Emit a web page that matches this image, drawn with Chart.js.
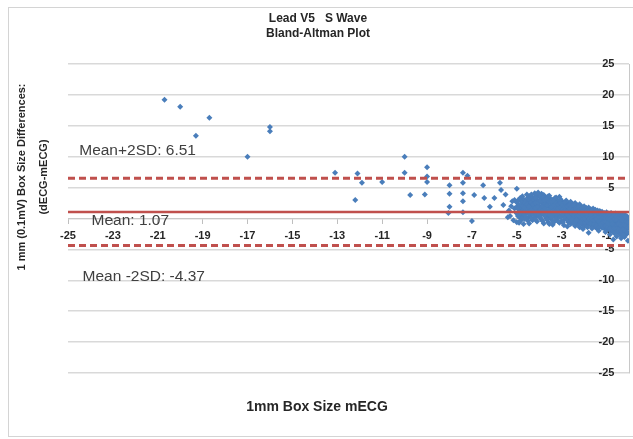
<!DOCTYPE html>
<html>
<head>
<meta charset="utf-8">
<script src="https://cdn.jsdelivr.net/npm/chart.js@4.4.1/dist/chart.umd.min.js"></script>
<style>
  html, body { margin: 0; padding: 0; background: #fff; }
  #wrap { width: 633px; height: 439px; }
</style>
</head>
<body>
<div id="wrap"><canvas id="baChart" width="633" height="439"></canvas></div>
<script>
// tick labels
const xTicks = [-25, -23, -21, -19, -17, -15, -13, -11, -9, -7, -5, -3, -1];
const yTicks = [-25, -20, -15, -10, -5, 0, 5, 10, 15, 20, 25];

// Bland-Altman statistics
const meanDiff = 1.07;
const upperLimit = 6.51;
const lowerLimit = -4.37;

// scattered points (mECG, difference)
const sparsePoints = [
  [-20.7, 19.2], [-20.0, 18.1], [-19.3, 13.4], [-18.7, 16.3], [-17.0, 10.0],
  [-16.0, 14.8], [-16.0, 14.1], [-13.1, 7.4], [-12.2, 3.0], [-12.1, 7.3],
  [-11.9, 5.8], [-11.0, 5.9], [-10.0, 10.0], [-10.0, 7.4], [-9.75, 3.8],
  [-9.1, 3.9], [-9.0, 8.3], [-9.0, 5.9], [-9.0, 6.8],
  [-8.05, 0.9], [-8.0, 1.9], [-8.0, 4.0], [-8.0, 5.4], [-7.4, 7.4], [-7.4, 5.8],
  [-7.4, 4.1], [-7.4, 2.8], [-7.4, 1.0], [-7.2, 6.9], [-7.0, -0.4], [-6.9, 3.8],
  [-6.5, 5.4], [-6.45, 3.3], [-6.2, 1.9], [-6.0, 3.3], [-5.75, 5.8], [-5.7, 4.6],
  [-5.6, 2.2], [-5.5, 3.9], [-5.3, 0.4], [-5.2, 2.8], [-5.1, 1.6],
  [-5.4, 0.2], [-5.35, 1.3], [-5.25, 2.0], [-5.15, -0.3], [-5.1, 3.0]
];

// dense cluster near zero: x column and the differences read at that column
const clusterX = [
  -5.0, -4.9, -4.8, -4.7, -4.6, -4.5, -4.4, -4.3, -4.2, -4.1,
  -4.0, -3.9, -3.8, -3.7, -3.6, -3.5, -3.4, -3.3, -3.2, -3.1,
  -3.0, -2.9, -2.8, -2.7, -2.6, -2.5, -2.4, -2.3, -2.2, -2.1,
  -2.0, -1.9, -1.8, -1.7, -1.6, -1.5, -1.4, -1.3, -1.2, -1.1,
  -1.0, -0.9, -0.8, -0.7, -0.6, -0.5, -0.4, -0.3, -0.2, -0.1
];
const clusterY = [
  [4.8, 2.6, 1.9, 0.8, -0.6], [2.2, 1.4, 0.3, -0.7], [2.8, 1.8, 1.1, 0.5, -0.2],
  [3.1, 2.4, 1.5, 0.7, -0.9], [2.9, 2.0, 1.2, 0.2], [3.4, 2.6, 1.7, 0.9, 0.1, -0.4],
  [3.7, 2.8, 2.1, 1.3, 0.4], [3.2, 2.4, 1.6, 0.8, -0.3], [4.1, 3.5, 2.7, 1.9, 1.0, 0.2],
  [3.9, 3.0, 2.2, 1.4, 0.5, -0.5], [3.6, 2.9, 2.0, 1.2, 0.3], [4.0, 3.3, 2.5, 1.7, 0.8, -0.2],
  [3.8, 3.1, 2.3, 1.5, 0.6, -0.8], [3.4, 2.7, 1.9, 1.1, 0.1], [3.6, 2.8, 2.0, 1.3, 0.4, -0.6],
  [3.2, 2.5, 1.7, 0.9, 0.0], [3.0, 2.3, 1.6, 0.7, -0.4, -1.0], [3.3, 2.6, 1.8, 1.0, 0.2],
  [2.9, 2.1, 1.4, 0.6, -0.3], [3.5, 2.7, 1.9, 1.1, 0.3, -0.7], [2.8, 2.0, 1.3, 0.5, -0.5],
  [2.6, 1.9, 1.1, 0.4, -0.2, -1.1], [2.9, 2.2, 1.5, 0.7, -0.1], [2.4, 1.7, 0.9, 0.2, -0.6],
  [2.7, 2.0, 1.2, 0.5, -0.3, -0.9], [2.3, 1.6, 0.8, 0.1, -0.7], [2.5, 1.8, 1.0, 0.3, -0.4, -1.2],
  [2.1, 1.4, 0.7, 0.0, -0.8], [2.3, 1.5, 0.9, 0.2, -0.5, -1.4], [1.9, 1.2, 0.6, -0.1, -0.9],
  [2.0, 1.4, 0.8, 0.1, -0.6, -1.3], [1.7, 1.0, 0.4, -0.3, -1.0], [1.8, 1.1, 0.5, -0.2, -0.8, -2.3],
  [1.5, 0.9, 0.2, -0.4, -1.1], [1.6, 1.0, 0.3, -0.5, -1.2], [1.4, 0.7, 0.1, -0.6, -1.4],
  [1.3, 0.8, 0.2, -0.4, -1.0, -1.7], [1.2, 0.6, 0.0, -0.7, -1.3], [1.1, 0.5, -0.1, -0.8, -1.5],
  [0.9, 0.4, -0.2, -0.9, -1.6], [1.0, 0.3, -0.3, -1.0, -1.8], [0.8, 0.2, -0.4, -1.1, -1.7],
  [0.9, 0.3, -0.5, -1.2, -2.0], [0.7, 0.1, -0.6, -1.3, -2.1, -3.4], [0.8, 0.2, -0.4, -1.0, -1.9],
  [0.6, 0.0, -0.7, -1.4, -2.2], [0.7, 0.1, -0.5, -1.2, -2.0, -2.6], [0.5, -0.1, -0.8, -1.5, -2.4],
  [0.6, 0.0, -0.6, -1.3, -2.1, -3.0], [0.4, -0.2, -0.9, -1.6, -2.5]
];
// second pass of columns in between the first ones
const clusterX2 = [
  -4.95, -4.85, -4.75, -4.65, -4.55, -4.45, -4.35, -4.25, -4.15, -4.05,
  -3.95, -3.85, -3.75, -3.65, -3.55, -3.45, -3.35, -3.25, -3.15, -3.05,
  -2.95, -2.85, -2.75, -2.65, -2.55, -2.45, -2.35, -2.25, -2.15, -2.05,
  -1.95, -1.85, -1.75, -1.65, -1.55, -1.45, -1.35, -1.25, -1.15, -1.05,
  -0.95, -0.85, -0.75, -0.65, -0.55, -0.45, -0.35, -0.25, -0.15, -0.05
];
const clusterY2 = [
  [1.6, 0.4, 2.9], [3.3, 0.9, -0.4, 2.1], [2.0, 0.1, 3.6], [1.7, 0.6, 2.5, -0.1],
  [3.9, 1.0, 2.3], [0.7, 1.9, 3.1, -0.8], [2.6, 0.0, 1.4, 3.9], [1.2, 3.0, 0.6, 2.3],
  [2.5, 0.9, 1.7, 3.3, -0.2], [0.8, 1.9, 2.6, 4.2], [1.5, 0.2, 2.8, 3.6], [2.0, 0.9, 1.2, 3.4, -0.4],
  [0.5, 1.6, 2.4, 3.0], [2.2, 1.0, -0.2, 3.2], [1.4, 2.7, 0.6, 3.7, -0.9], [1.9, 0.3, 2.8],
  [0.8, 1.3, 2.1, 2.9, -0.6], [1.7, 0.0, 2.4, 3.4], [0.9, 1.6, 2.3, -0.5], [1.8, 0.2, 2.5, 3.1],
  [0.7, 1.5, 2.2, -0.7], [1.3, 0.1, 2.6, 1.9], [0.6, 1.2, 2.0, -0.3, -1.3], [1.5, 0.3, 2.2],
  [0.9, 1.9, -0.2, 1.3], [1.2, 0.5, 2.1, -0.9], [0.4, 1.6, -0.3, 1.0], [1.8, 0.6, 1.2, -1.0],
  [0.9, 0.2, 1.6, -0.6], [1.1, -0.2, 0.5, 1.7, -1.7], [0.6, 1.3, -0.6, 0.0], [1.4, 0.2, -0.4, 0.8, -1.4],
  [0.5, 1.2, -0.8, -0.1], [0.9, -0.2, 0.4, 1.3, -1.6], [0.2, 1.0, -0.9, -0.3], [0.6, -0.1, 1.1, -1.2],
  [0.3, -0.5, 0.9, -1.5, -2.0], [0.8, -0.3, 0.2, -1.0], [0.1, -0.6, 0.7, -1.3], [0.5, -0.5, -1.2, 0.0, -2.2],
  [0.0, 0.6, -0.8, -1.4], [0.4, -0.2, -1.0, -1.6, -2.6], [0.2, -0.4, -0.9, -1.8], [0.5, -0.1, -1.1, -1.6, -2.4],
  [0.3, -0.3, -1.0, -1.7, -2.9], [0.2, -0.6, -0.9, -1.8], [0.4, 0.0, -1.1, -1.9, -3.2], [0.1, -0.4, -1.0, -1.8, -2.7],
  [0.3, -0.5, -1.2, -2.0], [0.0, -0.7, -1.4, -2.2, -3.6]
];

const scatterData = sparsePoints.map(p => ({x: p[0], y: p[1]}));
clusterX.forEach((x, i) => {
  clusterY[i].forEach(y => scatterData.push({x: x, y: y}));
});
clusterX2.forEach((x, i) => {
  clusterY2[i].forEach(y => scatterData.push({x: x, y: y}));
});

const lineRed = '#c0504d';
const font = 'Liberation Sans';

// frame, titles and limit labels
const decorations = {
  id: 'decorations',
  beforeDraw(chart) {
    const ctx = chart.ctx;
    ctx.save();
    ctx.strokeStyle = '#d4d4d4';
    ctx.lineWidth = 1;
    ctx.strokeRect(8.5, 7.5, 640, 429);
    ctx.restore();
  },
  afterDraw(chart) {
    const ctx = chart.ctx;
    const xs = chart.scales.x, ys = chart.scales.y;
    ctx.save();
    ctx.fillStyle = '#262626';
    ctx.textAlign = 'center';
    ctx.textBaseline = 'middle';
    ctx.font = 'bold 12px "' + font + '"';
    ctx.fillText('Lead V5   S Wave', 318, 19);
    ctx.fillText('Bland-Altman Plot', 318, 34);

    ctx.font = 'bold 14px "' + font + '"';
    ctx.fillText('1mm Box Size mECG', 317, 407);

    ctx.save();
    ctx.translate(22, 177);
    ctx.rotate(-Math.PI / 2);
    ctx.font = 'bold 11px "' + font + '"';
    ctx.fillText('1 mm (0.1mV) Box Size Differences:', 0, 0);
    ctx.fillText('(dECG-mECG)', 0, 22);
    ctx.restore();

    ctx.fillStyle = '#404040';
    ctx.textAlign = 'left';
    ctx.font = '15.5px "' + font + '"';
    ctx.fillText('Mean+2SD: ' + upperLimit.toFixed(2), xs.getPixelForValue(-24.5), ys.getPixelForValue(10.9));
    ctx.fillText('Mean: ' + meanDiff.toFixed(2), xs.getPixelForValue(-23.95), ys.getPixelForValue(-0.4));
    ctx.fillText('Mean -2SD: ' + lowerLimit.toFixed(2), xs.getPixelForValue(-24.35), ys.getPixelForValue(-9.4));
    ctx.restore();
  }
};

const ctx = document.getElementById('baChart').getContext('2d');
new Chart(ctx, {
  type: 'scatter',
  data: {
    datasets: [
      {
        type: 'line',
        data: [{x: -25, y: upperLimit}, {x: 0, y: upperLimit}],
        borderColor: lineRed,
        borderWidth: 3,
        borderDash: [7, 4],
        pointRadius: 0,
        order: -1
      },
      {
        type: 'line',
        data: [{x: -25, y: meanDiff}, {x: 0, y: meanDiff}],
        borderColor: lineRed,
        borderWidth: 2.5,
        pointRadius: 0,
        order: -1
      },
      {
        type: 'line',
        data: [{x: -25, y: lowerLimit}, {x: 0, y: lowerLimit}],
        borderColor: lineRed,
        borderWidth: 3,
        borderDash: [7, 4],
        pointRadius: 0,
        order: -1
      },
      {
        data: scatterData,
        pointStyle: 'rectRot',
        pointRadius: 3,
        backgroundColor: '#4a7ebb',
        borderColor: '#4a7ebb',
        borderWidth: 0,
        order: 5
      }
    ]
  },
  options: {
    responsive: false,
    animation: false,
    layout: { padding: { left: 68, top: 64, right: 1, bottom: 66 } },
    plugins: {
      legend: { display: false },
      tooltip: { enabled: false }
    },
    scales: {
      x: {
        type: 'linear',
        min: -25,
        max: 0,
        position: { y: 0 },
        afterBuildTicks: s => { s.ticks = xTicks.map(v => ({value: v})); },
        grid: { drawOnChartArea: false, drawTicks: true, tickLength: 5, color: '#bfbfbf' },
        border: { display: true, color: '#c8c8c8', width: 1 },
        ticks: {
          padding: 6,
          color: '#262626',
          font: { family: font, size: 11, weight: 'bold' }
        }
      },
      y: {
        type: 'linear',
        min: -25,
        max: 25,
        position: { x: 0 },
        afterBuildTicks: s => { s.ticks = yTicks.map(v => ({value: v})); },
        grid: { drawTicks: false, color: '#d9d9d9', lineWidth: 1.5 },
        border: { display: true, color: '#c8c8c8', width: 1 },
        ticks: { display: false }
      },
      yLabels: {
        type: 'linear',
        min: -25,
        max: 25,
        position: { x: -0.65 },
        afterBuildTicks: s => { s.ticks = yTicks.map(v => ({value: v})); },
        grid: { display: false, drawTicks: false },
        border: { display: false },
        ticks: {
          color: '#262626',
          font: { family: font, size: 11, weight: 'bold' }
        }
      }
    }
  },
  plugins: [decorations]
});
</script>
</body>
</html>
